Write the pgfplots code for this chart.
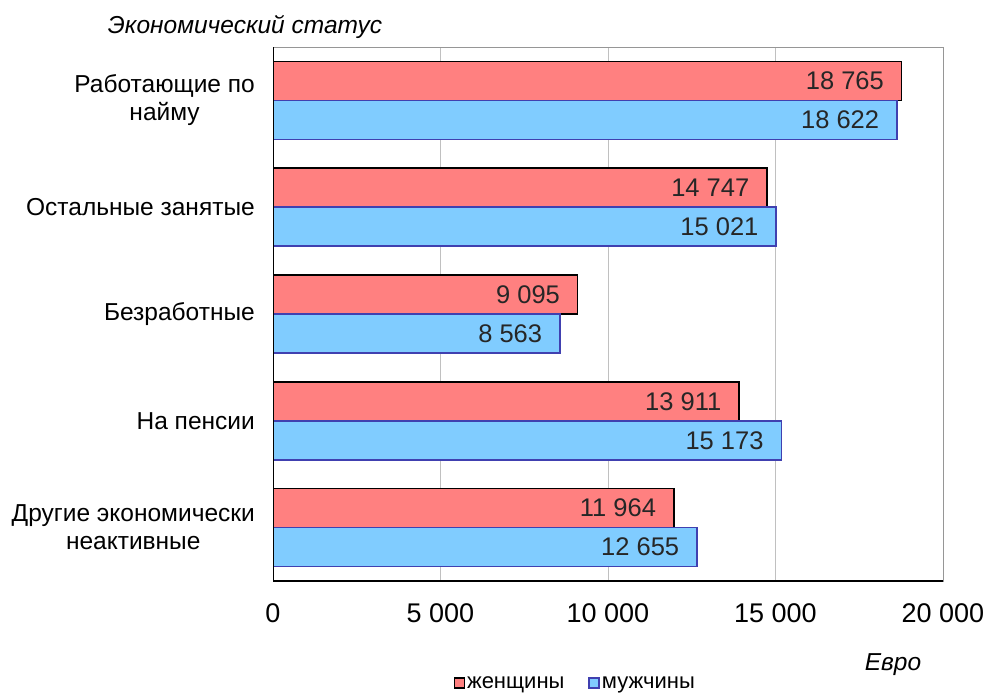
\documentclass[border=0pt]{standalone}
\usepackage{fontspec}
\setmainfont{Liberation Sans}
\usepackage{pgfplots}
\pgfplotsset{compat=1.18}
\definecolor{pinkbar}{RGB}{255,128,128}
\definecolor{bluebar}{RGB}{128,204,255}
\definecolor{blueedge}{RGB}{64,64,176}
\definecolor{gridgray}{RGB}{192,192,192}
\definecolor{framegray}{RGB}{150,150,150}
\begin{document}
\begin{tikzpicture}[x=1pt,y=1pt]
\path[use as bounding box] (0pt,0pt) rectangle (988pt,693pt);
\begin{axis}[
  at={(273pt,112pt)}, anchor=south west,
  scale only axis, width=670pt, height=534pt,
  xbar, bar width=39pt,
  xmin=0, xmax=20000,
  ymin=-0.5, ymax=4.5, y dir=reverse,
  ytick={0,1,2,3,4},
  yticklabels={{Работающие по\\найму},{Остальные занятые},{Безработные},{На пенсии},{Другие экономически\\неактивные}},
  yticklabel style={align=center, font=\fontsize{24.5}{28}\selectfont, inner sep=0pt, xshift=-18pt},
  xtick={0,5000,10000,15000,20000},
  scaled x ticks=false,
  xticklabel style={font=\fontsize{27}{30}\selectfont, inner sep=0pt, yshift=-22pt},
  /pgf/number format/1000 sep={\ },
  /pgf/number format/assume math mode=true,
  major tick length=0pt,
  xmajorgrids, grid style={gridgray, line width=1pt},
  axis line style={framegray, line width=1pt},
  nodes near coords,
  nodes near coords style={anchor=east, xshift=-17pt, inner sep=0pt, font=\fontsize{25.5}{28}\selectfont, text=black!85},
  legend style={at={(0.451,-0.191)}, anchor=center, draw=none, fill=none, legend columns=2,
    font=\fontsize{22}{24}\selectfont,
    /tikz/every even column/.append style={column sep=22pt}},
  legend image code/.code={\draw[#1] (0pt,-5pt) rectangle (10pt,5pt);},
]
\addplot[fill=pinkbar, draw=black, line width=1.5pt, bar shift=19.5pt] coordinates {(18765,0) (14747,1) (9095,2) (13911,3) (11964,4)};
\addplot[fill=bluebar, draw=blueedge, line width=1.5pt, bar shift=-19.5pt] coordinates {(18622,0) (15021,1) (8563,2) (15173,3) (12655,4)};
\legend{женщины, мужчины}
\draw[black, line width=2pt] (axis description cs:0,1) -- (axis description cs:0,0) -- (axis description cs:1,0);
\end{axis}
\node[font=\itshape\fontsize{24.5}{28}\selectfont] at (245pt,666pt) {Экономический статус};
\node[font=\itshape\fontsize{24.5}{28}\selectfont] at (893pt,28pt) {Евро};
\end{tikzpicture}
\end{document}
